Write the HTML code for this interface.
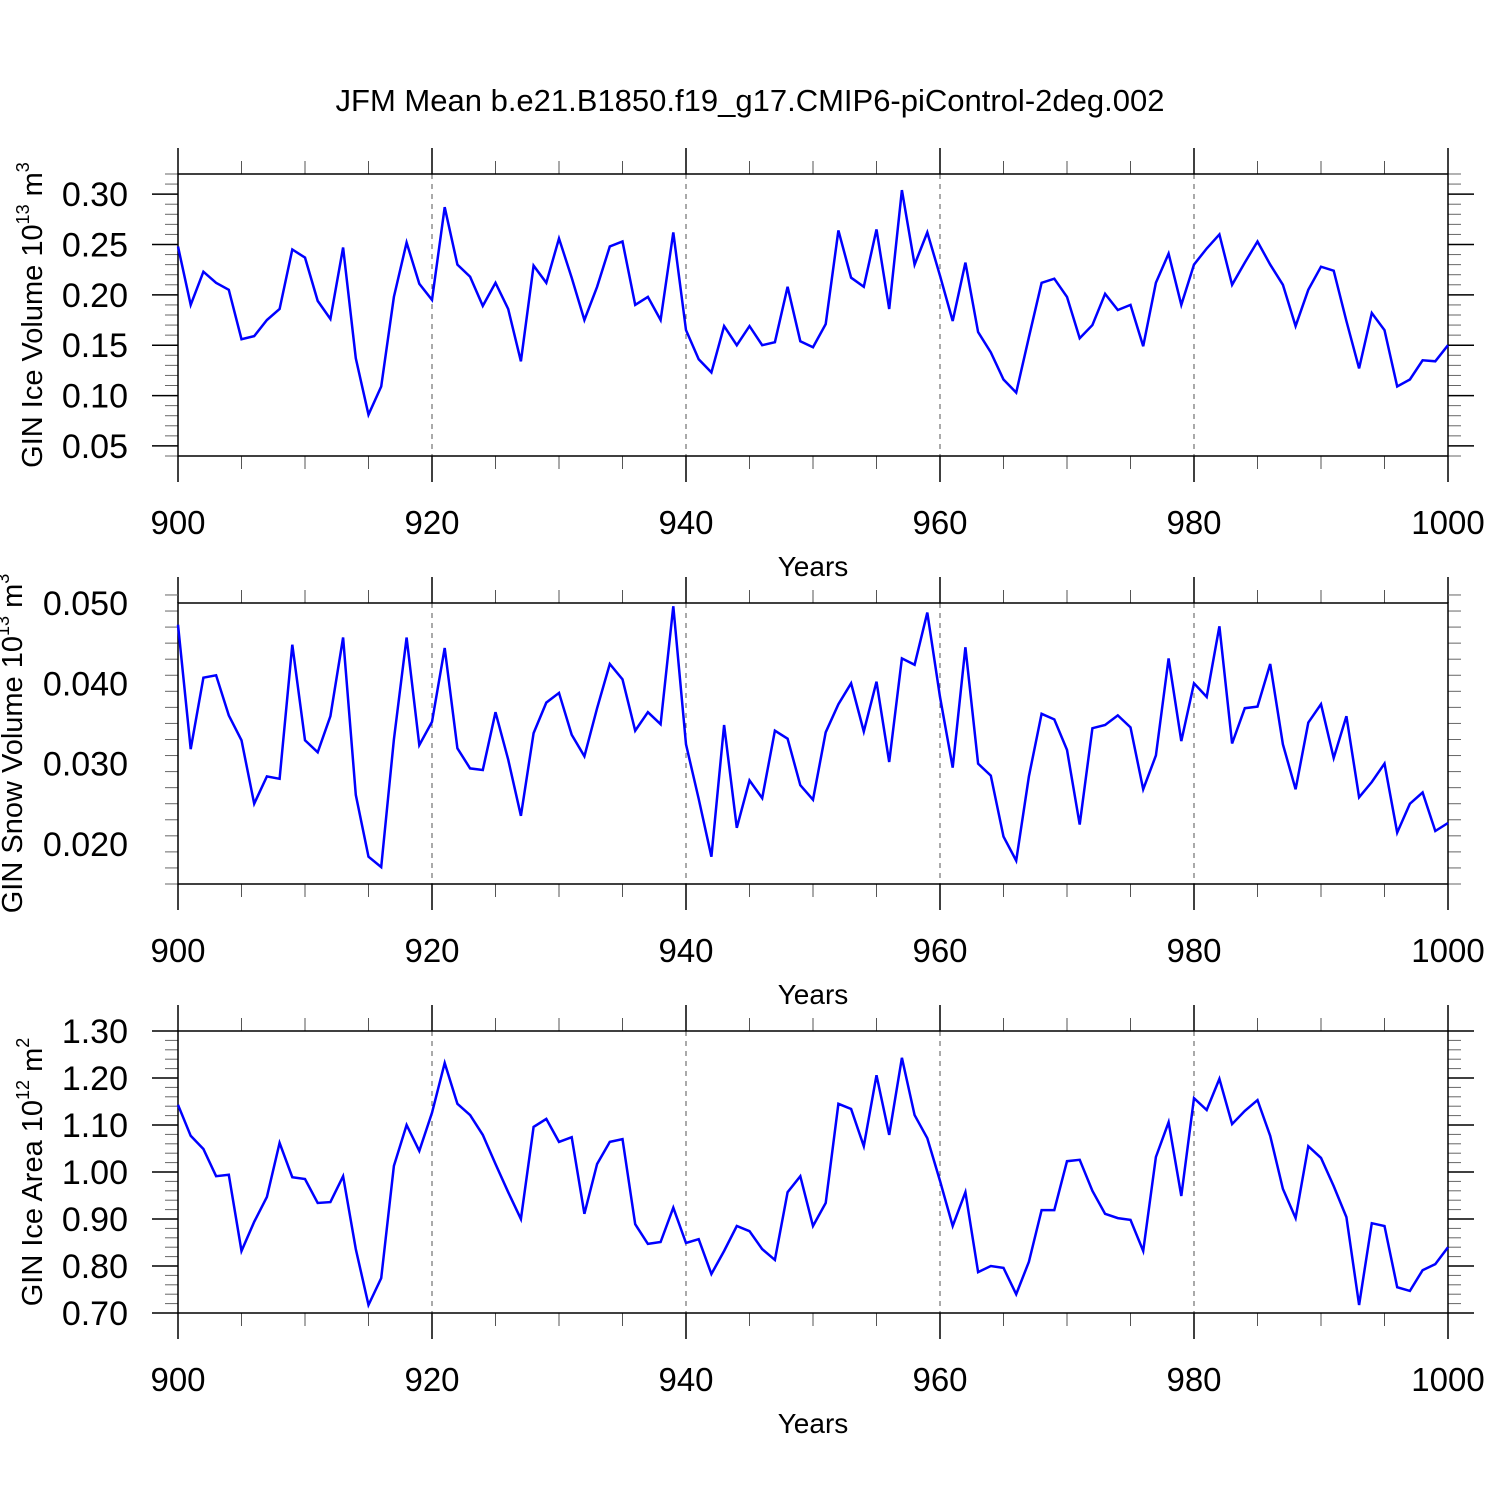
<!DOCTYPE html>
<html><head><meta charset="utf-8"><style>
html,body{margin:0;padding:0;background:#fff;}
svg{display:block;font-family:"Liberation Sans",sans-serif;}
</style></head><body>
<svg id="chart" width="1500" height="1500" viewBox="0 0 1500 1500" xmlns="http://www.w3.org/2000/svg">
<rect width="1500" height="1500" fill="#fff"/>
<text x="750" y="111" font-size="31" text-anchor="middle">JFM Mean b.e21.B1850.f19_g17.CMIP6-piControl-2deg.002</text>
</svg>
<script>
const years = Array.from({length:101},(_, i)=>900+i);
const iceVolume = [0.248,0.19,0.223,0.212,0.205,0.156,0.159,0.175,0.186,0.245,0.237,0.194,0.176,0.247,0.137,0.081,0.109,0.198,0.252,0.211,0.195,0.287,0.23,0.218,0.189,0.212,0.186,0.134,0.229,0.212,0.256,0.217,0.175,0.208,0.248,0.253,0.19,0.198,0.175,0.262,0.165,0.136,0.123,0.169,0.15,0.169,0.15,0.153,0.208,0.154,0.148,0.171,0.264,0.217,0.208,0.265,0.186,0.304,0.23,0.262,0.219,0.174,0.232,0.163,0.143,0.116,0.103,0.158,0.212,0.216,0.198,0.157,0.17,0.201,0.185,0.19,0.149,0.212,0.241,0.19,0.23,0.246,0.26,0.21,0.232,0.253,0.23,0.21,0.169,0.205,0.228,0.224,0.174,0.127,0.182,0.165,0.109,0.116,0.135,0.134,0.15];
const snowVolume = [0.0473,0.0318,0.0407,0.041,0.036,0.0329,0.025,0.0284,0.0281,0.0448,0.0329,0.0314,0.0359,0.0457,0.0261,0.0184,0.0171,0.033,0.0457,0.0323,0.0352,0.0444,0.0319,0.0294,0.0292,0.0364,0.0305,0.0235,0.0338,0.0376,0.0388,0.0336,0.0309,0.0369,0.0424,0.0405,0.0341,0.0364,0.0349,0.0496,0.0324,0.0256,0.0184,0.0348,0.022,0.0279,0.0257,0.0341,0.0331,0.0273,0.0255,0.0339,0.0374,0.04,0.034,0.0402,0.0302,0.0431,0.0423,0.0488,0.0383,0.0295,0.0445,0.03,0.0285,0.0209,0.0179,0.0284,0.0362,0.0355,0.0317,0.0224,0.0344,0.0348,0.036,0.0345,0.0268,0.031,0.0431,0.0328,0.04,0.0383,0.0471,0.0325,0.0369,0.0371,0.0424,0.0324,0.0268,0.0351,0.0374,0.0307,0.0359,0.0258,0.0277,0.03,0.0214,0.025,0.0264,0.0216,0.0226];
const iceArea = [1.143,1.077,1.049,0.991,0.994,0.832,0.894,0.947,1.062,0.989,0.985,0.934,0.936,0.991,0.836,0.717,0.774,1.013,1.1,1.045,1.126,1.232,1.145,1.121,1.079,1.017,0.957,0.9,1.096,1.113,1.064,1.074,0.911,1.017,1.064,1.07,0.889,0.847,0.851,0.924,0.849,0.857,0.783,0.832,0.885,0.874,0.836,0.813,0.957,0.991,0.885,0.934,1.145,1.134,1.055,1.206,1.079,1.243,1.121,1.072,0.981,0.885,0.957,0.787,0.8,0.796,0.74,0.809,0.919,0.919,1.023,1.026,0.96,0.911,0.902,0.898,0.832,1.032,1.106,0.949,1.157,1.132,1.198,1.102,1.13,1.153,1.077,0.964,0.902,1.055,1.03,0.97,0.904,0.717,0.891,0.885,0.755,0.747,0.791,0.804,0.84];
const xTickLabels = ["900","920","940","960","980","1000"];
const ticks1 = ["0.05","0.10","0.15","0.20","0.25","0.30"];
const ticks2 = ["0.020","0.030","0.040","0.050"];
const ticks3 = ["0.70","0.80","0.90","1.00","1.10","1.20","1.30"];

const NS="http://www.w3.org/2000/svg";
const svg=document.getElementById('chart');
function mk(tag,attrs,parent){const e=document.createElementNS(NS,tag);for(const k in attrs)e.setAttribute(k,attrs[k]);(parent||svg).appendChild(e);return e;}

const X0=178,X1=1448;
const xScale=v=>X0+(v-900)/100*(X1-X0);

function panel(cfg){
  const g=mk('g',{});
  
  
  const yS=v=>cfg.top+(cfg.ymax-v)/(cfg.ymax-cfg.ymin)*(cfg.bot-cfg.top);
  [920,940,960,980].forEach(v=>{
    const l=mk('line',{x1:xScale(v),x2:xScale(v),y1:cfg.top,y2:cfg.bot,stroke:'#555','stroke-width':1,'stroke-dasharray':'5,5'},g);
    
    
  });
  for(let v=900;v<=1000;v+=5){
    const maj=(v%20===0);const L=maj?26:13;const c=maj?'#000':'#555';
    mk('line',{x1:xScale(v),x2:xScale(v),y1:cfg.top-L,y2:cfg.top,stroke:c,'stroke-width':maj?1.5:1},g);
    mk('line',{x1:xScale(v),x2:xScale(v),y1:cfg.bot,y2:cfg.bot+L,stroke:c,'stroke-width':maj?1.5:1},g);
  }
  const nMin=Math.round((cfg.ymax-cfg.ymin)/cfg.minor);
  for(let i=0;i<=nMin;i++){
    const v=cfg.ymin+i*cfg.minor;
    const maj=cfg.labels.some(t=>Math.abs(parseFloat(t)-v)<cfg.minor/10);
    const L=maj?26:13;const c=maj?'#000':'#666';const y=yS(v);
    mk('line',{x1:X0-L,x2:X0,y1:y,y2:y,stroke:c,'stroke-width':maj?1.5:1},g);
    mk('line',{x1:X1,x2:X1+L,y1:y,y2:y,stroke:c,'stroke-width':maj?1.5:1},g);
  }
  cfg.labels.forEach(t=>{
    const tx=mk('text',{x:128,y:yS(parseFloat(t))+12,'font-size':34,'text-anchor':'end'},g);
    tx.textContent=t;
    
    
  });
  xTickLabels.forEach(t=>{
    const tx=mk('text',{x:xScale(parseFloat(t)),y:cfg.bot+78,'font-size':33,'text-anchor':'middle'},g);
    tx.textContent=t;
    
    
  });
  const xt=mk('text',{x:813,y:cfg.bot+120,'font-size':28,'text-anchor':'middle'},g);
  xt.textContent='Years';
  
  
  const yt=mk('text',{transform:`translate(${cfg.tx},${(cfg.top+cfg.bot)/2}) rotate(-90)`,'font-size':29,'text-anchor':'middle'},g);
  
  
  yt.innerHTML=cfg.title+' 10<tspan dy="-13" font-size="18">'+cfg.exp+'</tspan><tspan dy="13"> m</tspan><tspan dy="-13" font-size="18">'+cfg.unit+'</tspan>';
  const fr=mk('rect',{x:X0,y:cfg.top,width:X1-X0,height:cfg.bot-cfg.top,fill:'none',stroke:'#000','stroke-width':1.5},g);
  
  
  const pts=years.map((yr,i)=>xScale(yr).toFixed(1)+','+yS(cfg.data[i]).toFixed(1)).join(' ');
  const pl=mk('polyline',{points:pts,fill:'none',stroke:'#0000ff','stroke-width':2.5,'stroke-linejoin':'miter'},g);
  
  
}
panel({name:'ice-volume-panel',top:174,bot:456,ymin:0.04,ymax:0.32,minor:0.01,labels:ticks1,data:iceVolume,title:'GIN Ice Volume',exp:'13',unit:'3',tx:42});
panel({name:'snow-volume-panel',top:603,bot:884,ymin:0.015,ymax:0.050,minor:0.002,labels:ticks2,data:snowVolume,title:'GIN Snow Volume',exp:'13',unit:'3',tx:22});
panel({name:'ice-area-panel',top:1031,bot:1313,ymin:0.70,ymax:1.30,minor:0.02,labels:ticks3,data:iceArea,title:'GIN Ice Area',exp:'12',unit:'2',tx:42});
</script>
</body></html>
